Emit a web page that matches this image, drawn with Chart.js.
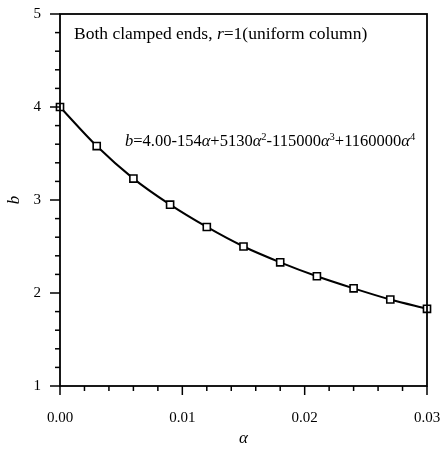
<!DOCTYPE html>
<html><head><meta charset="utf-8">
<script src="https://cdn.jsdelivr.net/npm/chart.js@4.4.1/dist/chart.umd.min.js"></script>
<style>html,body{margin:0;padding:0;background:#fff}canvas{display:block}</style>
</head><body>
<canvas id="c" width="440" height="449"></canvas>
<script>
const alphaValues = [0, 0.003, 0.006, 0.009, 0.012, 0.015, 0.018, 0.021, 0.024, 0.027, 0.030];
const bValues = [4.00, 3.58, 3.23, 2.95, 2.71, 2.50, 2.33, 2.18, 2.05, 1.93, 1.83];
const yTickValues = [1, 2, 3, 4, 5];
const xTickValues = [0, 0.01, 0.02, 0.03];
const noteText = [["Both clamped ends, ", false], ["r", true], ["=1(uniform column)", false]];
const eqText = [["b", true, false], ["=4.00-154", false, false], ["\u03b1", true, false], ["+5130", false, false], ["\u03b1", true, false], ["2", false, true], ["-115000", false, false], ["\u03b1", true, false], ["3", false, true], ["+1160000", false, false], ["\u03b1", true, false], ["4", false, true]];

const SERIF = "'Liberation Serif','Times New Roman',serif";

function zeroPad(s) { s.paddingLeft = 0; s.paddingRight = 0; s.paddingTop = 0; s.paddingBottom = 0; }

const decor = {
  id: 'decor',
  afterDraw(chart) {
    const ctx = chart.ctx, a = chart.chartArea;
    const xs = chart.scales.x, ys = chart.scales.y;
    ctx.save();
    ctx.strokeStyle = '#000';
    ctx.lineWidth = 1.8;
    ctx.strokeRect(a.left, a.top, a.right - a.left, a.bottom - a.top);
    ctx.lineWidth = 1.5;
    for (let i = 0; i <= 20; i++) {
      const v = 1 + i * 0.2;
      const p = ys.getPixelForValue(v);
      const major = i % 5 === 0;
      ctx.beginPath();
      ctx.moveTo(a.left, p);
      ctx.lineTo(a.left - (major ? 10 : 5), p);
      ctx.stroke();
    }
    for (let i = 0; i <= 15; i++) {
      const v = i * 0.002;
      const p = xs.getPixelForValue(v);
      const major = i % 5 === 0;
      ctx.beginPath();
      ctx.moveTo(p, a.bottom);
      ctx.lineTo(p, a.bottom + (major ? 9 : 5));
      ctx.stroke();
    }
    ctx.fillStyle = '#000';
    ctx.textBaseline = 'alphabetic';
    let x = 74;
    for (const [t, it] of noteText) {
      ctx.font = (it ? 'italic ' : '') + '17.5px ' + SERIF;
      ctx.fillText(t, x, 39);
      x += ctx.measureText(t).width;
    }
    x = 125;
    for (const [t, it, sup] of eqText) {
      ctx.font = (it ? 'italic ' : '') + (sup ? '10.5px ' : '16.5px ') + SERIF;
      ctx.fillText(t, x, sup ? 140 : 146);
      x += ctx.measureText(t).width;
    }
    ctx.restore();
  }
};

new Chart(document.getElementById('c'), {
  type: 'line',
  data: {
    datasets: [{
      data: alphaValues.map((a, i) => ({x: a, y: bValues[i]})),
      borderColor: '#000',
      borderWidth: 2,
      cubicInterpolationMode: 'monotone',
      pointStyle: 'rect',
      pointRadius: 5,
      pointBorderWidth: 1.6,
      pointBorderColor: '#000',
      pointBackgroundColor: '#fff',
      clip: false
    }]
  },
  options: {
    responsive: false,
    devicePixelRatio: 1,
    animation: false,
    layout: {padding: {top: 14, right: 13, left: 0, bottom: 0}},
    plugins: {legend: {display: false}, tooltip: {enabled: false}},
    scales: {
      x: {
        type: 'linear', min: 0, max: 0.03,
        afterFit: s => { s.height = 63; zeroPad(s); },
        afterBuildTicks: s => { s.ticks = xTickValues.map(v => ({value: v})); },
        grid: {display: false, drawTicks: false},
        border: {display: false},
        ticks: {padding: 23, color: '#000', font: {family: SERIF, size: 15}, callback: v => v.toFixed(2), maxRotation: 0},
        title: {display: true, text: '\u03b1', color: '#000', font: {family: SERIF, size: 17, style: 'italic'}, padding: {top: 0, bottom: 0}}
      },
      y: {
        type: 'linear', min: 1, max: 5,
        afterFit: s => { s.width = 60; zeroPad(s); },
        afterBuildTicks: s => { s.ticks = yTickValues.map(v => ({value: v})); },
        grid: {display: false, drawTicks: false},
        border: {display: false},
        ticks: {padding: 19, color: '#000', font: {family: SERIF, size: 15}},
        title: {display: true, text: 'b', color: '#000', font: {family: SERIF, size: 17, style: 'italic'}}
      }
    }
  },
  plugins: [decor]
});
</script>
</body></html>
